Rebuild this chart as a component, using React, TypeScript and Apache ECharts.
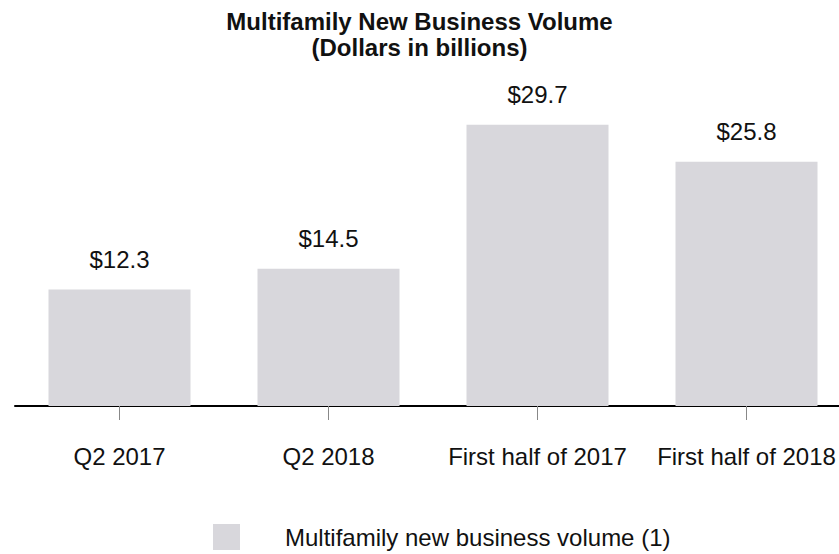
import React, { useEffect, useRef } from "react";
import * as echarts from "echarts";

const categories = ["Q2 2017", "Q2 2018", "First half of 2017", "First half of 2018"];
const values = [12.3, 14.5, 29.7, 25.8];
const seriesName = "Multifamily new business volume (1)";
const titleText = "Multifamily New Business Volume\n(Dollars in billions)";

const FONT = "'Liberation Sans', Arial, sans-serif";

export default function App() {
  const ref = useRef<HTMLDivElement>(null);
  useEffect(() => {
    if (!ref.current) return;
    const chart = echarts.init(ref.current, null, { renderer: "svg" });
    chart.setOption({
      animation: false,
      textStyle: { fontFamily: FONT },
      title: {
        text: titleText,
        left: 419.5,
        textAlign: "center",
        top: 8,
        padding: 0,
        textStyle: {
          fontFamily: FONT,
          fontSize: 24,
          fontWeight: "bold",
          color: "#111",
          lineHeight: 26,
        },
      },
      legend: {
        data: [seriesName],
        left: 213,
        top: 524,
        padding: 0,
        itemWidth: 27,
        itemHeight: 26,
        icon: "rect",
        textStyle: {
          fontFamily: FONT,
          fontSize: 24,
          color: "#111",
          padding: [0, 0, 0, 40],
        },
      },
      grid: { left: 15, width: 836, top: 122, height: 284, containLabel: false },
      xAxis: {
        type: "category",
        data: categories,
        axisLine: { show: true, lineStyle: { color: "#000", width: 2 } },
        axisTick: { show: true, alignWithLabel: true, length: 14, lineStyle: { color: "#888", width: 1 } },
        axisLabel: { fontFamily: FONT, fontSize: 24, color: "#111", margin: 38, interval: 0 },
      },
      yAxis: { type: "value", min: 0, max: 30, show: false, splitLine: { show: false } },
      series: [
        {
          name: seriesName,
          type: "bar",
          data: values,
          barWidth: 142,
          itemStyle: { color: "#d8d7dc" },
          label: {
            show: true,
            position: "top",
            distance: 18,
            fontFamily: FONT,
            fontSize: 24,
            color: "#111",
            formatter: (p: any) => "$" + p.value.toFixed(1),
          },
        },
      ],
    });
    return () => chart.dispose();
  }, []);
  return (
    <div
      style={{ position: "absolute", left: 0, top: 0, width: 839, height: 554, overflow: "hidden", background: "#fff" }}
    >
      <div ref={ref} style={{ width: 880, height: 554 }} />
    </div>
  );
}
